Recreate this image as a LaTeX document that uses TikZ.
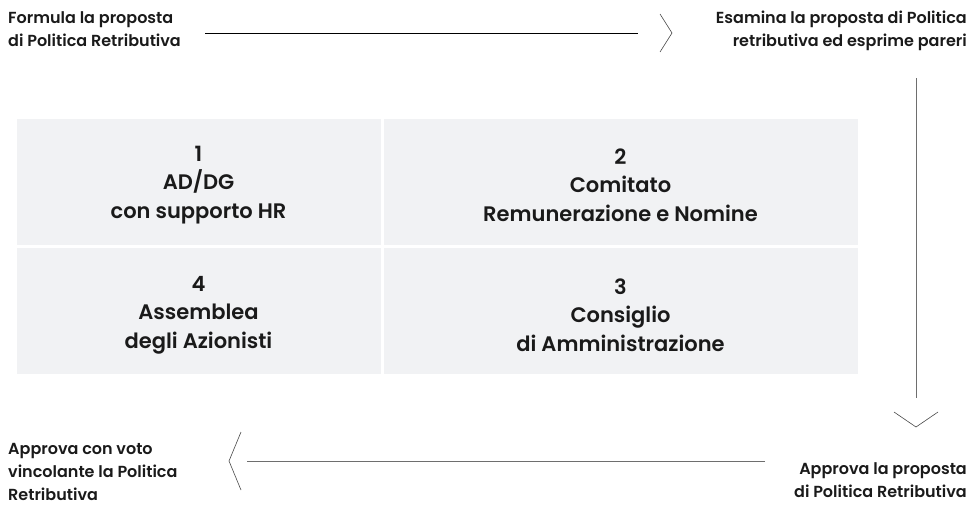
\documentclass[tikz,border=0pt]{standalone}
\usepackage{fontspec}
\setmainfont{Poppins}[UprightFont=* SemiBold]
\definecolor{cellgray}{HTML}{F1F2F4}
\definecolor{inkdark}{HTML}{1A1A1A}
\definecolor{linegray}{HTML}{6E6E6E}
\tikzset{
  lbl/.style={inner sep=0pt, text=inkdark, font=\fontsize{16}{23}\selectfont},
  cell/.style={fill=cellgray, draw=white, line width=2pt, inner sep=0pt,
    minimum width=366pt, minimum height=128pt},
  celltext/.style={inner sep=0pt, align=center, text=inkdark,
    font=\fontsize{21}{28.5}\selectfont},
  conn/.style={line width=0.9pt, linegray},
  chev/.style={line width=0.6pt, inkdark!80}
}
\begin{document}
\begin{tikzpicture}[x=1pt, y=-1pt]
    \useasboundingbox (0, 0) rectangle (975, 504);
    % grid of the four bodies
    \node[cell] (adg) at (198.5, 182) {};
    \node[cell, minimum width=476pt] (comitato) at (620.5, 182) {};
    \node[cell] (assemblea) at (198.5, 311) {};
    \node[cell, minimum width=476pt] (consiglio) at (620.5, 311) {};
    \node[celltext] (adgText) at ([yshift=-3pt]adg) {1\\AD/DG\\con supporto HR};
    \node[celltext] (comitatoText) at ([yshift=-3pt]comitato) {2\\Comitato\\Remunerazione e Nomine};
    \node[celltext] (assembleaText) at ([yshift=-4pt]assemblea) {4\\Assemblea\\degli Azionisti};
    \node[celltext] (consiglioText) at ([yshift=-4pt]consiglio) {3\\Consiglio\\di Amministrazione};
    % step labels (base = last line)
    \node[lbl, anchor=base west, align=left] (formula) at (8, 46) {Formula la proposta\\di Politica Retributiva};
    \node[lbl, anchor=base east, align=right] (esamina) at (967, 46) {Esamina la proposta di Politica\\retributiva ed esprime pareri};
    \node[lbl, anchor=base east, align=right] (approvaCda) at (967, 497) {Approva la proposta\\di Politica Retributiva};
    \node[lbl, anchor=base west, align=left] (approvaAss) at (8, 500) {Approva con voto\\vincolante la Politica\\Retributiva};
    % connectors and their chevrons
    \coordinate (topStart) at (205, 33);
    \coordinate (topEnd) at (638, 33);
    \coordinate (topTip) at (672, 33);
    \coordinate (sideStart) at (916, 78);
    \coordinate (sideEnd) at (916, 398);
    \coordinate (sideTip) at (916, 427);
    \coordinate (botStart) at (765, 461);
    \coordinate (botEnd) at (247, 461);
    \coordinate (botTip) at (229, 461);
    \draw[conn, black] (topStart) -- (topEnd);
    \draw[conn] (sideStart) -- (sideEnd);
    \draw[conn] (botStart) -- (botEnd);
    \draw[chev] ([shift={(-12,-19)}]topTip) -- (topTip) -- ([shift={(-12,19)}]topTip);
    \draw[chev] ([shift={(-22,-15)}]sideTip) -- (sideTip) -- ([shift={(22,-15)}]sideTip);
    \draw[chev] ([shift={(12,-29)}]botTip) -- (botTip) -- ([shift={(12,29)}]botTip);
\end{tikzpicture}
\end{document}
